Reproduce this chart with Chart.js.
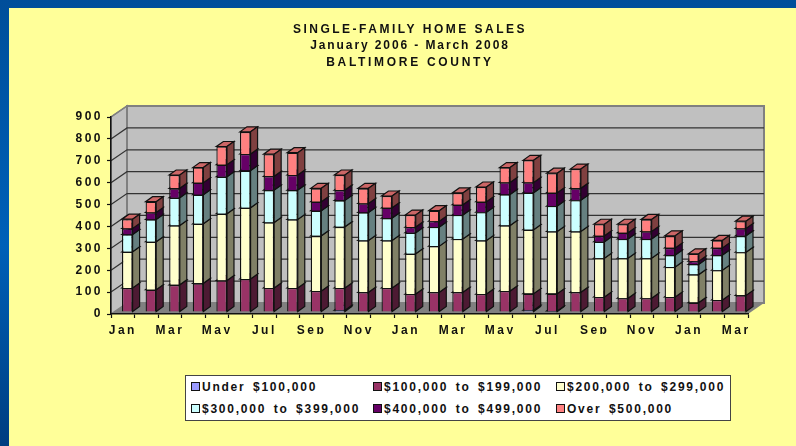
<!DOCTYPE html>
<html>
<head>
<meta charset="utf-8">
<script src="https://cdn.jsdelivr.net/npm/chart.js@4"></script>
<style>
    html, body { margin: 0; padding: 0; width: 796px; height: 446px; overflow: hidden; }
    body { position: relative; background: linear-gradient(180deg, #004e9a 0%, #0060b8 55%, #003d80 100%); }
    #panel { position: absolute; left: 9px; top: 8px; right: 0; bottom: 0; background: #ffff99; }
    #chart { position: absolute; left: 0; top: 0; }
    #legend {
        position: absolute; left: 185px; top: 375px; width: 546px; height: 46px; box-sizing: border-box;
        background: #fff; border: 1.5px solid #444; padding: 0 0 0 5px;
        display: grid; grid-template-columns: 182px 183px 1fr; grid-auto-rows: 22px; align-items: center;
        font: bold 12px "Liberation Sans", sans-serif; letter-spacing: 1.75px; word-spacing: 2.5px; color: #111; white-space: nowrap;
    }
    #legend i { display: inline-block; width: 7px; height: 7px; border: 1.5px solid #111; margin-right: 2px; }
</style>
</head>
<body>
<div id="panel"></div>
<canvas id="chart" width="796" height="446"></canvas>
<div id="legend"></div>
<script>
// Monthly labels, January 2006 - March 2008
const months = ['Jan','Feb','Mar','Apr','May','Jun','Jul','Aug','Sep','Oct','Nov','Dec',
    'Jan','Feb','Mar','Apr','May','Jun','Jul','Aug','Sep','Oct','Nov','Dec','Jan','Feb','Mar'];

// Values
const under100 = [2,2,2,2,2,2,2,2,2,8,2,2,2,2,2,2,2,8,5,2,2,2,2,2,2,2,2];
const from100 = [108,100,122,129,142,149,108,108,94,102,88,108,80,88,88,80,94,76,79,88,67,61,61,67,41,53,74];
const from200 = [165,219,271,272,305,325,299,313,252,279,237,217,184,211,244,245,299,292,284,278,177,183,183,137,128,136,197];
const from300 = [79,102,127,133,169,170,148,134,115,121,128,102,96,87,109,129,142,169,116,143,75,88,88,54,47,69,75];
const from400 = [28,32,43,55,55,76,63,69,41,47,41,47,26,27,47,48,55,47,61,54,27,28,34,33,14,33,34];
const over500 = [42,49,61,69,83,101,101,102,61,69,69,54,55,48,54,67,68,101,89,88,53,39,55,55,34,34,33];

const seriesNames = ['Under $100,000','$100,000 to $199,000','$200,000 to $299,000',
    '$300,000 to $399,000','$400,000 to $499,000','Over $500,000'];
const seriesValues = [under100, from100, from200, from300, from400, over500];
const titleLines = ['SINGLE-FAMILY HOME SALES', 'January 2006 - March 2008', 'BALTIMORE COUNTY'];

const frontColors = ['#9999ff','#993366','#ffffcc','#ccffff','#660066','#ff8080'];
const sideColors = ['#4d4d80','#4d1a33','#808066','#668080','#330033','#804040'];
const topColors = ['#7a7acc','#7a2952','#ccccA3','#a3cccc','#520052','#cc6666'];

// Fake 3D box: wall depth and how far the bars sit inside it
const WALL_DX = 16, WALL_DY = -11;
const BAR_DX = 7, BAR_DY = -5;
const BAR_SHIFT_X = 4.5, BAR_SHIFT_Y = -2;

// Title is centred at 410 and each line has its own tracking
const TITLE_X = 410;
const TITLE_Y = [30, 46, 63];
const TITLE_TRACKING = ['2.5px', '1.9px', '2.7px'];

function poly(ctx, pts, fill, stroke, lw) {
    ctx.beginPath();
    pts.forEach((p, i) => i ? ctx.lineTo(p[0], p[1]) : ctx.moveTo(p[0], p[1]));
    ctx.closePath();
    if (fill) { ctx.fillStyle = fill; ctx.fill(); }
    if (stroke) { ctx.strokeStyle = stroke; ctx.lineWidth = lw; ctx.stroke(); }
}

const box3d = {
    id: 'box3d',
    beforeDraw(chart) {
        const { ctx, chartArea: a, scales } = chart;
        const bx = a.left + WALL_DX, by = a.bottom + WALL_DY;
        const tx = a.right + WALL_DX, ty = a.top + WALL_DY;

        // title
        ctx.save();
        ctx.font = 'bold 12px "Liberation Sans"';
        ctx.fillStyle = '#111';
        ctx.textAlign = 'center';
        ctx.textBaseline = 'middle';
        titleLines.forEach((line, i) => {
            ctx.letterSpacing = TITLE_TRACKING[i];
            ctx.fillText(line, TITLE_X, TITLE_Y[i]);
        });
        ctx.restore();
        ctx.letterSpacing = '2.5px';

        // side wall, back wall, floor
        poly(ctx, [[a.left, a.bottom], [bx, by], [bx, ty], [a.left, a.top]], '#c0c0c0', '#808080', 1.5);
        poly(ctx, [[bx, by], [tx, by], [tx, ty], [bx, ty]], '#c0c0c0', '#808080', 2);

        // gridlines follow the y scale
        scales.y.ticks.forEach(t => {
            const y = scales.y.getPixelForValue(t.value);
            if (t.value === 0) return;
            ctx.beginPath();
            ctx.moveTo(a.left, y);
            ctx.lineTo(bx, y + WALL_DY);
            ctx.lineTo(tx, y + WALL_DY);
            ctx.strokeStyle = t.value === 900 ? '#808080' : '#333';
            ctx.lineWidth = 1.2;
            ctx.stroke();
        });
        poly(ctx, [[a.left, a.bottom], [a.right, a.bottom], [tx, by], [bx, by]], '#808080');
    },
    beforeDatasetsDraw(chart) {
        const { ctx } = chart;
        ctx.save();
        ctx.translate(BAR_SHIFT_X, BAR_SHIFT_Y);
        // sides and tops first, lowest series first, the front faces go on top
        chart.data.datasets.forEach((ds, i) => {
            chart.getDatasetMeta(i).data.forEach(bar => {
                const h = bar.base - bar.y;
                if (h <= 0) return;
                const r = bar.x + bar.width / 2, l = bar.x - bar.width / 2;
                poly(ctx, [[l, bar.y], [r, bar.y], [r + BAR_DX, bar.y + BAR_DY], [l + BAR_DX, bar.y + BAR_DY]], topColors[i], '#111', 1.2);
                poly(ctx, [[r, bar.y], [r + BAR_DX, bar.y + BAR_DY], [r + BAR_DX, bar.base + BAR_DY], [r, bar.base]], sideColors[i], '#111', 1.2);
            });
        });
    },
    afterDatasetsDraw(chart) {
        chart.ctx.restore();
    }
};

const chart = new Chart(document.getElementById('chart'), {
    type: 'bar',
    data: {
        labels: months,
        datasets: seriesNames.map((name, i) => ({
            label: name,
            data: seriesValues[i],
            backgroundColor: frontColors[i],
            borderColor: '#111',
            borderWidth: 1.3,
            clip: false
        }))
    },
    options: {
        responsive: false,
        animation: false,
        layout: { padding: { left: 72, right: 48, top: 117, bottom: 112 } },
        datasets: { bar: { categoryPercentage: 1, barPercentage: 0.45 } },
        plugins: {
            legend: { display: false },
            tooltip: { enabled: false },
            title: { display: false }
        },
        scales: {
            x: {
                stacked: true,
                afterFit: s => { s.height = 20; },
                grid: { drawOnChartArea: false, color: '#111', tickLength: 4, tickWidth: 1.2 },
                border: { color: '#111', width: 1.5 },
                ticks: {
                    autoSkip: false, maxRotation: 0, color: '#111', padding: 5,
                    font: { family: '"Liberation Sans"', size: 12, weight: 'bold' },
                    callback(v, i) { return i % 2 === 0 ? this.getLabelForValue(v) : ''; }
                }
            },
            y: {
                stacked: true, min: 0, max: 900,
                afterFit: s => { s.width = 39; },
                grid: { drawOnChartArea: false, color: '#111', tickLength: 4, tickWidth: 1.2 },
                border: { color: '#111', width: 1.5 },
                ticks: {
                    stepSize: 100, color: '#111', padding: 4,
                    font: { family: '"Liberation Sans"', size: 12, weight: 'bold' }
                }
            }
        }
    },
    plugins: [box3d]
});

document.getElementById('legend').innerHTML = chart.data.datasets.map((ds, i) =>
    `<span><i style="background:${frontColors[i]}"></i>${ds.label}</span>`).join('');
</script>
</body>
</html>
